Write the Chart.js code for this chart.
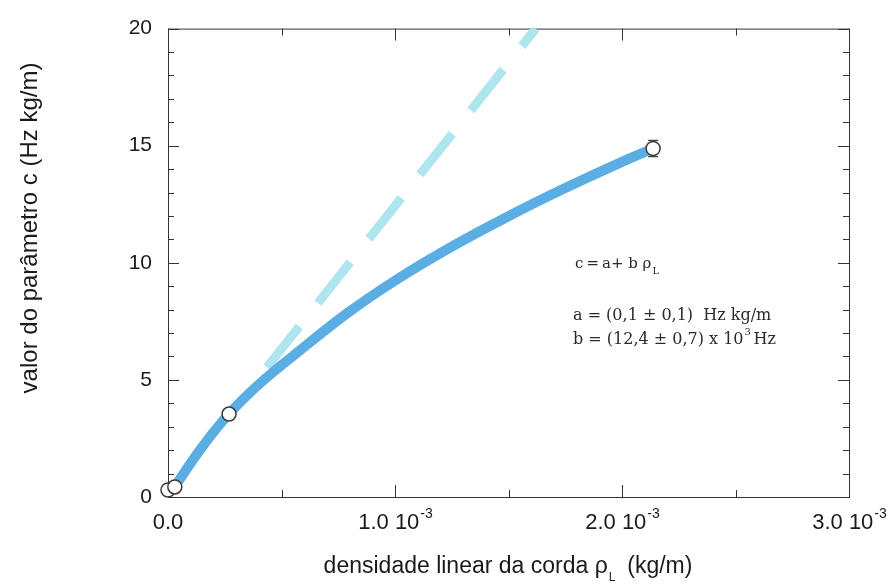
<!DOCTYPE html>
<html>
<head>
<meta charset="utf-8">
<script src="https://cdn.jsdelivr.net/npm/chart.js@4.4.1/dist/chart.umd.min.js"></script>
<style>
  html, body { margin: 0; padding: 0; background: #ffffff; }
  #wrap { width: 888px; height: 587px; }
</style>
</head>
<body>
<div id="wrap"><canvas id="c"></canvas></div>
<script>
// pontos medidos (rho em kg/m, c em Hz kg/m)
const rhoMed = [0.0, 0.03e-3, 0.269e-3, 2.137e-3];
const cMed = [0.3, 0.43, 3.54, 14.88];
const cErr = [0, 0, 0, 0.35];

// curva suave desenhada à mão sobre os pontos
const rhoCurva = [0.03e-3, 0.14e-3, 0.264e-3, 0.405e-3, 0.58e-3, 0.79e-3, 1.0e-3, 1.25e-3, 1.5e-3, 1.75e-3, 2.0e-3, 2.137e-3];
const cCurva = [0.45, 2.0, 3.5, 4.85, 6.25, 7.85, 9.24, 10.69, 11.99, 13.19, 14.31, 14.88];

// reta do ajuste c = a + b rho (trecho tracejado)
const rhoReta = [0.436e-3, 1.62e-3];
const cReta = [5.54, 20.0];

// eixos
const xTickValores = [0, 1e-3, 2e-3, 3e-3];
const xTickTexto = ['0.0', '1.0 10', '2.0 10', '3.0 10'];
const xTickExpoente = ['', '-3', '-3', '-3'];
const xMenores = [0.5e-3, 1.5e-3, 2.5e-3];
const yTickValores = [0, 5, 10, 15, 20];
const yMenores = [1, 2, 3, 4, 6, 7, 8, 9, 11, 12, 13, 14, 16, 17, 18, 19];

const fonteSans = '"Liberation Sans", Arial, sans-serif';
const fonteSerif = '"DejaVu Serif", serif';

function pares(xs, ys) {
    return xs.map((x, i) => ({ x: x, y: ys[i] }));
}

// moldura, marcas internas, barra de erro
const molduraPlugin = {
    id: 'moldura',
    beforeDatasetsDraw(chart) {
        const { ctx, chartArea: a, scales } = chart;
        const sx = scales.x, sy = scales.y;
        ctx.save();
        ctx.strokeStyle = '#333';
        ctx.lineWidth = 1;
        ctx.strokeRect(a.left + 0.5, a.top + 0.5, a.right - a.left, a.bottom - a.top);

        function marcaX(v, len) {
            const px = Math.round(sx.getPixelForValue(v)) + 0.5;
            ctx.beginPath();
            ctx.moveTo(px, a.bottom); ctx.lineTo(px, a.bottom - len);
            ctx.moveTo(px, a.top); ctx.lineTo(px, a.top + len);
            ctx.stroke();
        }
        function marcaY(v, len) {
            const py = Math.round(sy.getPixelForValue(v)) + 0.5;
            ctx.beginPath();
            ctx.moveTo(a.left, py); ctx.lineTo(a.left + len, py);
            ctx.moveTo(a.right, py); ctx.lineTo(a.right - len, py);
            ctx.stroke();
        }
        xTickValores.forEach(v => marcaX(v, 12));
        xMenores.forEach(v => marcaX(v, 7));
        yTickValores.forEach(v => marcaY(v, 11));
        yMenores.forEach(v => marcaY(v, 6));

        // barras de erro
        ctx.strokeStyle = '#444';
        ctx.lineWidth = 1.2;
        rhoMed.forEach((r, i) => {
            if (!cErr[i]) return;
            const px = sx.getPixelForValue(r);
            const y1 = sy.getPixelForValue(cMed[i] + cErr[i]);
            const y2 = sy.getPixelForValue(cMed[i] - cErr[i]);
            ctx.beginPath();
            ctx.moveTo(px, y1); ctx.lineTo(px, y2);
            ctx.moveTo(px - 5, y1); ctx.lineTo(px + 5, y1);
            ctx.moveTo(px - 5, y2); ctx.lineTo(px + 5, y2);
            ctx.stroke();
        });
        ctx.restore();
    },
    afterDraw(chart) {
        const { ctx, chartArea: a, scales } = chart;
        const sx = scales.x;
        ctx.save();
        ctx.fillStyle = '#1a1a1a';

        // rótulos do eixo x com expoente
        ctx.textBaseline = 'alphabetic';
        xTickValores.forEach((v, i) => {
            const px = sx.getPixelForValue(v);
            ctx.font = '22px ' + fonteSans;
            const w1 = ctx.measureText(xTickTexto[i]).width;
            ctx.font = '14px ' + fonteSans;
            const w2 = xTickExpoente[i] ? ctx.measureText(xTickExpoente[i]).width : 0;
            let x0 = px - (w1 + w2) / 2;
            if (i === 0) x0 = px - w1 / 2;
            ctx.textAlign = 'left';
            ctx.font = '22px ' + fonteSans;
            ctx.fillText(xTickTexto[i], x0, 529);
            if (w2) {
                ctx.font = '14px ' + fonteSans;
                ctx.fillText(xTickExpoente[i], x0 + w1 + 1, 518);
            }
        });

        // título do eixo x com índice L
        const t1 = 'densidade linear da corda ρ';
        const t2 = 'L';
        const t3 = '  (kg/m)';
        ctx.font = '23px ' + fonteSans;
        const wa = ctx.measureText(t1).width;
        const wc = ctx.measureText(t3).width;
        ctx.font = '12px ' + fonteSans;
        const wb = ctx.measureText(t2).width;
        let x0 = 508 - (wa + wb + wc) / 2;
        ctx.textAlign = 'left';
        ctx.font = '23px ' + fonteSans;
        ctx.fillText(t1, x0, 573);
        ctx.font = '12px ' + fonteSans;
        ctx.fillText(t2, x0 + wa + 1, 581);
        ctx.font = '23px ' + fonteSans;
        ctx.fillText(t3, x0 + wa + wb, 573);

        // título do eixo y
        ctx.save();
        ctx.translate(30, 228);
        ctx.rotate(-Math.PI / 2);
        ctx.textAlign = 'center';
        ctx.textBaseline = 'middle';
        ctx.font = '24px ' + fonteSans;
        ctx.fillText('valor do parâmetro c (Hz kg/m)', 0, 0);
        ctx.restore();

        // anotação do ajuste
        ctx.fillStyle = '#2a2a2a';
        ctx.textAlign = 'left';
        ctx.font = '15px ' + fonteSerif;
        const e1 = 'c\u2009=\u2009a+ b ρ';
        ctx.fillText(e1, 575, 268);
        const we1 = ctx.measureText(e1).width;
        ctx.font = '10px ' + fonteSerif;
        ctx.fillText('L', 575 + we1 + 1, 274);
        ctx.font = '16px ' + fonteSerif;
        ctx.fillText('a = (0,1 ± 0,1)  Hz kg/m', 573, 320);
        const l3 = 'b = (12,4 ± 0,7) x 10';
        ctx.fillText(l3, 573, 344);
        const w3 = ctx.measureText(l3).width;
        ctx.font = '10px ' + fonteSerif;
        ctx.fillText('3', 573 + w3 + 1, 335);
        ctx.font = '16px ' + fonteSerif;
        ctx.fillText('Hz', 573 + w3 + 10, 344);
        ctx.restore();
    }
};

const ctx = document.getElementById('c').getContext('2d');
const chart = new Chart(ctx, {
    type: 'line',
    data: {
        datasets: [
            {
                label: 'medidas',
                data: pares(rhoMed, cMed),
                showLine: false,
                pointRadius: 7,
                pointBackgroundColor: '#ffffff',
                pointBorderColor: '#3a3a3a',
                pointBorderWidth: 1.5,
                clip: false,
                order: 0
            },
            {
                label: 'curva',
                data: pares(rhoCurva, cCurva),
                borderColor: '#5aaee3',
                borderWidth: 10,
                borderCapStyle: 'round',
                pointRadius: 0,
                cubicInterpolationMode: 'monotone',
                fill: false,
                order: 1
            },
            {
                label: 'ajuste',
                data: pares(rhoReta, cReta),
                borderColor: '#aee5ef',
                borderWidth: 9,
                borderDash: [52, 30],
                pointRadius: 0,
                fill: false,
                order: 2
            }
        ]
    },
    options: {
        responsive: true,
        maintainAspectRatio: false,
        animation: false,
        layout: { padding: { top: 28, right: 39, left: 0, bottom: 0 } },
        plugins: {
            legend: { display: false },
            tooltip: { enabled: false }
        },
        scales: {
            x: {
                type: 'linear',
                min: 0,
                max: 3e-3,
                grid: { display: false, drawTicks: false },
                border: { display: false },
                ticks: { display: false },
                afterFit: function(scale) { scale.height = 90; }
            },
            y: {
                type: 'linear',
                min: 0,
                max: 20,
                grid: { display: false, drawTicks: false },
                border: { display: false },
                ticks: {
                    stepSize: 5,
                    padding: 16,
                    color: '#1a1a1a',
                    font: { family: fonteSans, size: 21 }
                },
                afterFit: function(scale) { scale.width = 168; }
            }
        }
    },
    plugins: [molduraPlugin]
});
</script>
</body>
</html>
